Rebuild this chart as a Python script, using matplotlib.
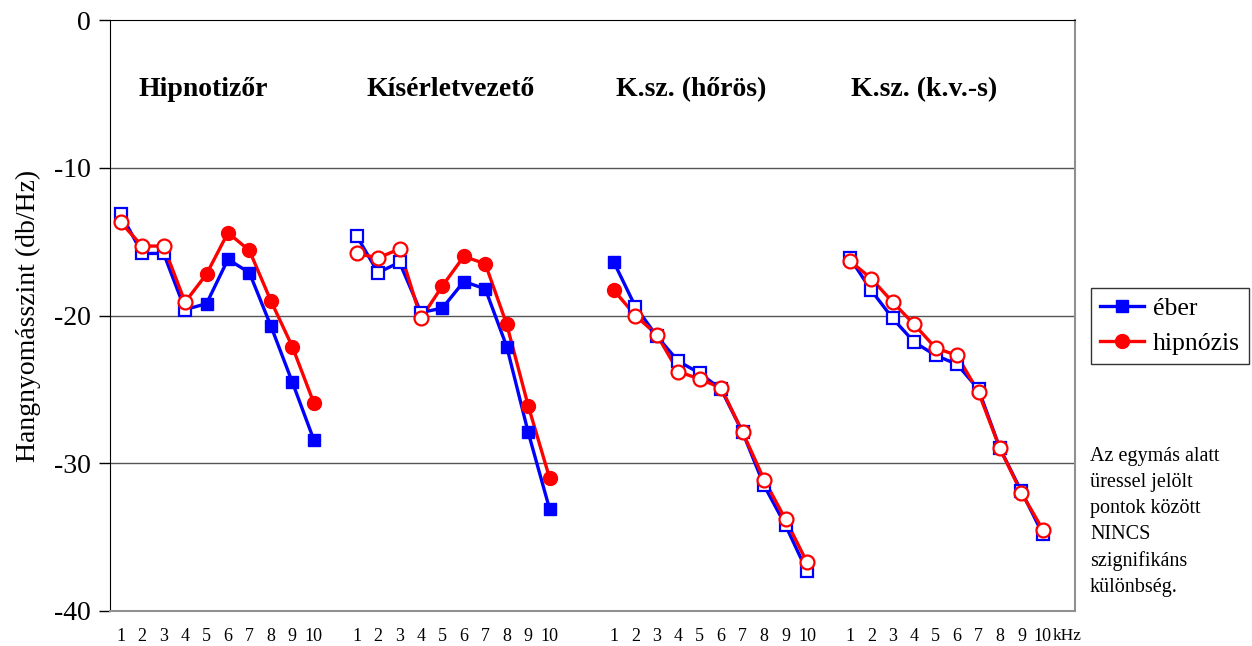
import numpy as np
import matplotlib; matplotlib.use("Agg")
import matplotlib.pyplot as plt
from matplotlib.lines import Line2D

plt.rcParams['font.family'] = ['Liberation Serif', 'DejaVu Serif']
plt.rcParams['axes.unicode_minus'] = False

GROUPS = ["Hipnotizőr", "Kísérletvezető", "K.sz. (hőrös)", "K.sz. (k.v.-s)"]
FREQ = [str(i) for i in range(1, 11)]
# first category slot of each group on the axis (gaps between groups are empty slots)
OFFSETS = [0, 11, 23, 34]

eber = [
    [-13.1, -15.8, -15.8, -19.6, -19.2, -16.2, -17.1, -20.7, -24.5, -28.4],
    [-14.6, -17.1, -16.4, -19.8, -19.5, -17.7, -18.2, -22.1, -27.9, -33.1],
    [-16.4, -19.4, -21.4, -23.1, -23.9, -25.0, -27.9, -31.5, -34.2, -37.3],
    [-16.1, -18.3, -20.2, -21.8, -22.7, -23.3, -25.0, -29.0, -31.9, -34.8],
]
hipnozis = [
    [-13.7, -15.3, -15.3, -19.1, -17.2, -14.4, -15.6, -19.0, -22.1, -25.9],
    [-15.8, -16.1, -15.5, -20.2, -18.0, -16.0, -16.5, -20.6, -26.1, -31.0],
    [-18.3, -20.0, -21.3, -23.8, -24.3, -24.9, -27.9, -31.1, -33.8, -36.7],
    [-16.3, -17.5, -19.1, -20.6, -22.2, -22.7, -25.2, -29.0, -32.0, -34.5],
]
# True = significant difference (filled marker), False = not significant (hollow)
signif = [
    [False] * 4 + [True] * 6,
    [False] * 4 + [True] * 6,
    [True] + [False] * 9,
    [False] * 10,
]

BLUE = "#0000FF"; RED = "#FF0000"
TITLE_X = [3.85, 15.4, 26.6, 37.45]   # group title centres, in category slots

fig = plt.figure(figsize=(12.52, 6.46), dpi=100)
ax = fig.add_axes([110 / 1252, 1 - 611 / 646, 965 / 1252, 591 / 646])

for g in range(4):
    x = OFFSETS[g] + np.arange(10)
    m = np.array(signif[g])
    for vals, col, mk, ms in [(eber[g], BLUE, "s", 8.5), (hipnozis[g], RED, "o", 10)]:
        v = np.array(vals)
        ax.plot(x, v, color=col, lw=2.4, zorder=3)
        ax.plot(x[m], v[m], ls="none", marker=mk, ms=ms, mfc=col, mec=col, zorder=4)
        ax.plot(x[~m], v[~m], ls="none", marker=mk, ms=ms, mfc="white", mec=col,
                mew=1.6, zorder=4)
    ax.text(TITLE_X[g], -4.7, GROUPS[g], ha="center", va="center",
            fontsize=20, fontweight="bold")

ax.set_xlim(-0.5, 44.5)
ax.set_ylim(-40, 0)
ax.set_xticks([o + i for o in OFFSETS for i in range(10)])
ax.set_xticklabels(FREQ * 4, fontsize=13)
ax.tick_params(axis="x", length=0, pad=12)
# unit label sits right after the last "10", on the tick-label baseline
ax.annotate("kHz", xy=(44.15, 0), xycoords=("data", "axes fraction"),
            xytext=(0, -12), textcoords="offset points", ha="center", va="top",
            fontsize=12.5)
ax.set_yticks([0, -10, -20, -30, -40])
ax.set_yticklabels(["0", "-10", "-20", "-30", "-40"], fontsize=20)
ax.tick_params(axis="y", direction="out", length=8, width=1, pad=6)
ax.set_ylabel("Hangnyomásszint (db/Hz)", fontsize=20, labelpad=9)

for y in [-10, -20, -30]:
    ax.axhline(y, color="#555555", lw=1, zorder=1)
ax.spines["left"].set_color("black")
ax.spines["top"].set_color("black")
ax.spines["right"].set_color("#909090"); ax.spines["right"].set_linewidth(1.5)
ax.spines["bottom"].set_color("#909090"); ax.spines["bottom"].set_linewidth(1.5)

handles = [Line2D([], [], color=BLUE, lw=2.4, marker="s", ms=8.5),
           Line2D([], [], color=RED, lw=2.4, marker="o", ms=10)]
leg = fig.legend(handles, ["éber", "hipnózis"], loc="upper left",
                 bbox_to_anchor=(1091 / 1252, 1 - 288 / 646), fontsize=18.5,
                 frameon=True, fancybox=False, handlelength=1.7, handletextpad=0.35,
                 borderpad=0.35, labelspacing=0.45, borderaxespad=0)
leg.get_frame().set_edgecolor("black"); leg.get_frame().set_linewidth(1)

fig.text(1090 / 1252, 1 - 447 / 646,
         "Az egymás alatt\nüressel jelölt\npontok között\nNINCS\nszignifikáns\nkülönbség.",
         ha="left", va="top", fontsize=14.5, linespacing=1.5)

fig.savefig("out.png", dpi=100)
